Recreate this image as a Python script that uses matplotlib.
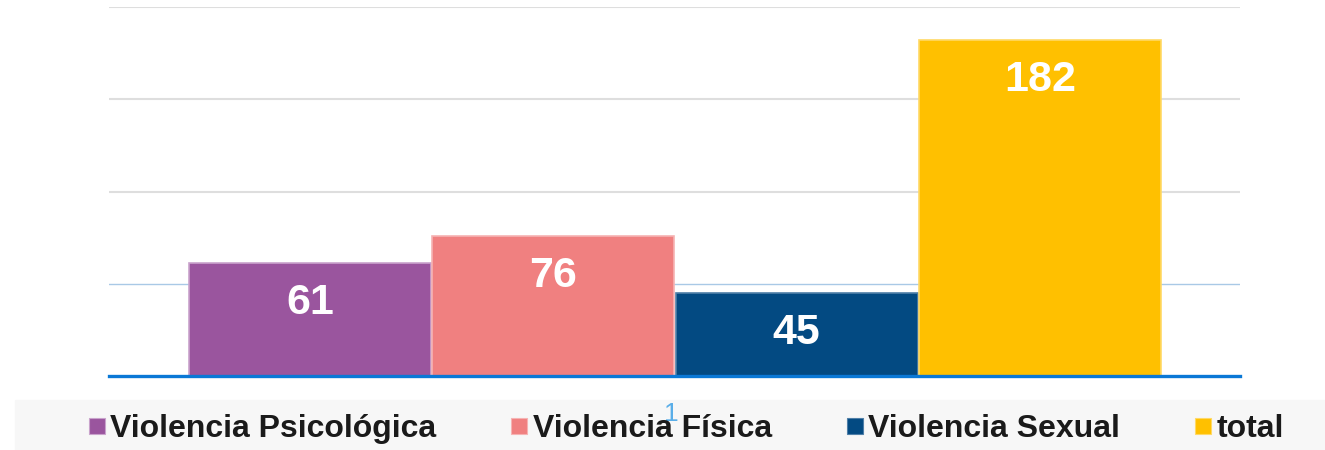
import matplotlib.pyplot as plt
from matplotlib.lines import Line2D
from matplotlib.patches import Rectangle

# datos
categorias = ["Violencia Psicológica", "Violencia Física", "Violencia Sexual", "total"]
valores = [61, 76, 45, 182]
colores = ["#9a559e", "#f08080", "#034a82", "#ffc000"]
bordes = ["#c9a3cc", "#f6b3b3", "#4f7fa8", "#ffd966"]

plt.rcParams['font.family'] = ['Liberation Sans', 'DejaVu Sans']

fig = plt.figure(figsize=(13.25, 4.5), dpi=100)
ax = fig.add_axes([109 / 1325, 74 / 450, 1131 / 1325, 369 / 450])

# franja gris de la leyenda
fig.patches.append(Rectangle((15 / 1325, 0), 1310 / 1325, 50 / 450,
                             transform=fig.transFigure, color="#f7f7f7", zorder=0))

x = list(range(len(valores)))
barras = ax.bar(x, valores, width=0.995, color=colores, edgecolor=bordes,
                linewidth=1.2, zorder=3)

# etiquetas dentro de las barras
for xi, v in zip(x, valores):
    ax.annotate(str(v), (xi, v), xytext=(0, -40), textcoords='offset pixels',
                ha='center', va='center', color='white', fontsize=31,
                fontweight='bold', zorder=4)

# líneas de cuadrícula
ax.axhline(50, color="#a9c9e6", linewidth=1, zorder=1)
for g in [100, 150, 200]:
    ax.axhline(g, color="#dedede", linewidth=1.5, zorder=1)
ax.axhline(0, color="#0a78d6", linewidth=2.4, zorder=5, clip_on=False)

ax.set_xlim(-0.826, 3.822)
ax.set_ylim(0, 200)
ax.set_xticks([])
ax.set_yticks([])
for s in ax.spines.values():
    s.set_visible(False)

# leyenda
handles = [Line2D([], [], marker='s', linestyle='none', markersize=11.5,
                  markerfacecolor=c, markeredgecolor=b, markeredgewidth=0.8)
           for c, b in zip(colores, bordes)]
leg = fig.legend(handles, categorias, loc='center', ncol=4,
                 bbox_to_anchor=(685.5 / 1325, 21 / 450), frameon=False,
                 prop={'size': 23, 'weight': 'bold'}, handlelength=0.6,
                 handletextpad=0.12, columnspacing=2.3, borderpad=0)
for t in leg.get_texts():
    t.set_color("#1a1a1a")

# el "1" azul suelto
fig.text(671 / 1325, 1 - 414 / 450, "1", color="#5aaee8", fontsize=19,
         ha='center', va='center')

fig.savefig("out.png", dpi=100)
